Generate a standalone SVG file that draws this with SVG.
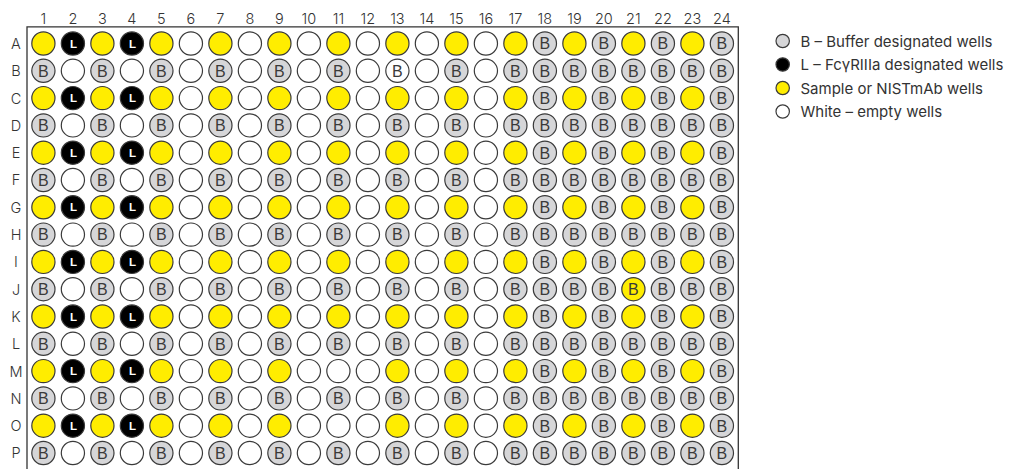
<svg xmlns="http://www.w3.org/2000/svg" width="1015" height="469" viewBox="0 0 1015 469">
<style>
circle{stroke:#3a3a3a;stroke-width:1.2}
.w{fill:#fff}.y{fill:#ffed00}.g{fill:#d6d6d8}.k{fill:#000}
.b{font-family:"Liberation Sans",Arial,sans-serif;font-size:16px;fill:#3a3a3a;text-anchor:middle}
.l{font-family:"Liberation Sans",Arial,sans-serif;font-size:11.5px;font-weight:bold;fill:#fff;text-anchor:middle}
.lab{font-family:Inter,"Noto Sans",sans-serif;font-size:14.5px;font-weight:300;fill:#333;text-anchor:middle}
.leg{font-family:Inter,"Noto Sans",sans-serif;font-size:15px;fill:#333}
</style>
<rect width="1015" height="469" fill="#fff"/>
<g id="frame"><path d="M27 469V26.8H738.3V469" fill="none" stroke="#333" stroke-width="1.3"/></g>
<g id="column-labels" class="lab">
<text x="43.4" y="24">1</text><text x="72.9" y="24">2</text><text x="102.4" y="24">3</text><text x="131.9" y="24">4</text><text x="161.4" y="24">5</text><text x="190.9" y="24">6</text><text x="220.4" y="24">7</text><text x="249.9" y="24">8</text><text x="279.4" y="24">9</text><text x="308.9" y="24">10</text><text x="338.4" y="24">11</text><text x="367.9" y="24">12</text><text x="397.4" y="24">13</text><text x="426.9" y="24">14</text><text x="456.4" y="24">15</text><text x="485.9" y="24">16</text><text x="515.4" y="24">17</text><text x="544.9" y="24">18</text><text x="574.4" y="24">19</text><text x="603.9" y="24">20</text><text x="633.4" y="24">21</text><text x="662.9" y="24">22</text><text x="692.4" y="24">23</text><text x="721.9" y="24">24</text>
</g>
<g id="row-labels" class="lab">
<text x="16" y="48.9">A</text><text x="16" y="76.2">B</text><text x="16" y="103.5">C</text><text x="16" y="130.8">D</text><text x="16" y="158.1">E</text><text x="16" y="185.4">F</text><text x="16" y="212.7">G</text><text x="16" y="240">H</text><text x="16" y="267.3">I</text><text x="16" y="294.6">J</text><text x="16" y="321.9">K</text><text x="16" y="349.2">L</text><text x="16" y="376.5">M</text><text x="16" y="403.8">N</text><text x="16" y="431.1">O</text><text x="16" y="458.4">P</text>
</g>
<g id="connectors"></g>
<g id="row-A" transform="translate(0 43.5)">
<g id="A1"><circle class="y" cx="43.4" r="11.6"/></g>
<g id="A2"><circle class="k" cx="72.9" r="11.6"/><text class="l" x="73.4" y="4.1">L</text></g>
<g id="A3"><circle class="y" cx="102.4" r="11.6"/></g>
<g id="A4"><circle class="k" cx="131.9" r="11.6"/><text class="l" x="132.4" y="4.1">L</text></g>
<g id="A5"><circle class="y" cx="161.4" r="11.6"/></g>
<g id="A6"><circle class="w" cx="190.9" r="11.6"/></g>
<g id="A7"><circle class="y" cx="220.4" r="11.6"/></g>
<g id="A8"><circle class="w" cx="249.9" r="11.6"/></g>
<g id="A9"><circle class="y" cx="279.4" r="11.6"/></g>
<g id="A10"><circle class="w" cx="308.9" r="11.6"/></g>
<g id="A11"><circle class="y" cx="338.4" r="11.6"/></g>
<g id="A12"><circle class="w" cx="367.9" r="11.6"/></g>
<g id="A13"><circle class="y" cx="397.4" r="11.6"/></g>
<g id="A14"><circle class="w" cx="426.9" r="11.6"/></g>
<g id="A15"><circle class="y" cx="456.4" r="11.6"/></g>
<g id="A16"><circle class="w" cx="485.9" r="11.6"/></g>
<g id="A17"><circle class="y" cx="515.4" r="11.6"/></g>
<g id="A18"><circle class="g" cx="544.9" r="11.6"/><text class="b" x="544.9" y="5.8">B</text></g>
<g id="A19"><circle class="y" cx="574.4" r="11.6"/></g>
<g id="A20"><circle class="g" cx="603.9" r="11.6"/><text class="b" x="603.9" y="5.8">B</text></g>
<g id="A21"><circle class="y" cx="633.4" r="11.6"/></g>
<g id="A22"><circle class="g" cx="662.9" r="11.6"/><text class="b" x="662.9" y="5.8">B</text></g>
<g id="A23"><circle class="y" cx="692.4" r="11.6"/></g>
<g id="A24"><circle class="g" cx="721.9" r="11.6"/><text class="b" x="721.9" y="5.8">B</text></g>
</g>
<g id="row-B" transform="translate(0 70.8)">
<g id="B1"><circle class="g" cx="43.4" r="11.6"/><text class="b" x="43.4" y="5.8">B</text></g>
<g id="B2"><circle class="w" cx="72.9" r="11.6"/></g>
<g id="B3"><circle class="g" cx="102.4" r="11.6"/><text class="b" x="102.4" y="5.8">B</text></g>
<g id="B4"><circle class="w" cx="131.9" r="11.6"/></g>
<g id="B5"><circle class="g" cx="161.4" r="11.6"/><text class="b" x="161.4" y="5.8">B</text></g>
<g id="B6"><circle class="w" cx="190.9" r="11.6"/></g>
<g id="B7"><circle class="g" cx="220.4" r="11.6"/><text class="b" x="220.4" y="5.8">B</text></g>
<g id="B8"><circle class="w" cx="249.9" r="11.6"/></g>
<g id="B9"><circle class="g" cx="279.4" r="11.6"/><text class="b" x="279.4" y="5.8">B</text></g>
<g id="B10"><circle class="w" cx="308.9" r="11.6"/></g>
<g id="B11"><circle class="g" cx="338.4" r="11.6"/><text class="b" x="338.4" y="5.8">B</text></g>
<g id="B12"><circle class="w" cx="367.9" r="11.6"/></g>
<g id="B13"><circle class="w" cx="397.4" r="11.6"/><text class="b" x="397.4" y="5.8">B</text></g>
<g id="B14"><circle class="w" cx="426.9" r="11.6"/></g>
<g id="B15"><circle class="g" cx="456.4" r="11.6"/><text class="b" x="456.4" y="5.8">B</text></g>
<g id="B16"><circle class="w" cx="485.9" r="11.6"/></g>
<g id="B17"><circle class="g" cx="515.4" r="11.6"/><text class="b" x="515.4" y="5.8">B</text></g>
<g id="B18"><circle class="g" cx="544.9" r="11.6"/><text class="b" x="544.9" y="5.8">B</text></g>
<g id="B19"><circle class="g" cx="574.4" r="11.6"/><text class="b" x="574.4" y="5.8">B</text></g>
<g id="B20"><circle class="g" cx="603.9" r="11.6"/><text class="b" x="603.9" y="5.8">B</text></g>
<g id="B21"><circle class="g" cx="633.4" r="11.6"/><text class="b" x="633.4" y="5.8">B</text></g>
<g id="B22"><circle class="g" cx="662.9" r="11.6"/><text class="b" x="662.9" y="5.8">B</text></g>
<g id="B23"><circle class="g" cx="692.4" r="11.6"/><text class="b" x="692.4" y="5.8">B</text></g>
<g id="B24"><circle class="g" cx="721.9" r="11.6"/><text class="b" x="721.9" y="5.8">B</text></g>
</g>
<g id="row-C" transform="translate(0 98.1)">
<g id="C1"><circle class="y" cx="43.4" r="11.6"/></g>
<g id="C2"><circle class="k" cx="72.9" r="11.6"/><text class="l" x="73.4" y="4.1">L</text></g>
<g id="C3"><circle class="y" cx="102.4" r="11.6"/></g>
<g id="C4"><circle class="k" cx="131.9" r="11.6"/><text class="l" x="132.4" y="4.1">L</text></g>
<g id="C5"><circle class="y" cx="161.4" r="11.6"/></g>
<g id="C6"><circle class="w" cx="190.9" r="11.6"/></g>
<g id="C7"><circle class="y" cx="220.4" r="11.6"/></g>
<g id="C8"><circle class="w" cx="249.9" r="11.6"/></g>
<g id="C9"><circle class="y" cx="279.4" r="11.6"/></g>
<g id="C10"><circle class="w" cx="308.9" r="11.6"/></g>
<g id="C11"><circle class="y" cx="338.4" r="11.6"/></g>
<g id="C12"><circle class="w" cx="367.9" r="11.6"/></g>
<g id="C13"><circle class="y" cx="397.4" r="11.6"/></g>
<g id="C14"><circle class="w" cx="426.9" r="11.6"/></g>
<g id="C15"><circle class="y" cx="456.4" r="11.6"/></g>
<g id="C16"><circle class="w" cx="485.9" r="11.6"/></g>
<g id="C17"><circle class="y" cx="515.4" r="11.6"/></g>
<g id="C18"><circle class="g" cx="544.9" r="11.6"/><text class="b" x="544.9" y="5.8">B</text></g>
<g id="C19"><circle class="y" cx="574.4" r="11.6"/></g>
<g id="C20"><circle class="g" cx="603.9" r="11.6"/><text class="b" x="603.9" y="5.8">B</text></g>
<g id="C21"><circle class="y" cx="633.4" r="11.6"/></g>
<g id="C22"><circle class="g" cx="662.9" r="11.6"/><text class="b" x="662.9" y="5.8">B</text></g>
<g id="C23"><circle class="y" cx="692.4" r="11.6"/></g>
<g id="C24"><circle class="g" cx="721.9" r="11.6"/><text class="b" x="721.9" y="5.8">B</text></g>
</g>
<g id="row-D" transform="translate(0 125.4)">
<g id="D1"><circle class="g" cx="43.4" r="11.6"/><text class="b" x="43.4" y="5.8">B</text></g>
<g id="D2"><circle class="w" cx="72.9" r="11.6"/></g>
<g id="D3"><circle class="g" cx="102.4" r="11.6"/><text class="b" x="102.4" y="5.8">B</text></g>
<g id="D4"><circle class="w" cx="131.9" r="11.6"/></g>
<g id="D5"><circle class="g" cx="161.4" r="11.6"/><text class="b" x="161.4" y="5.8">B</text></g>
<g id="D6"><circle class="w" cx="190.9" r="11.6"/></g>
<g id="D7"><circle class="g" cx="220.4" r="11.6"/><text class="b" x="220.4" y="5.8">B</text></g>
<g id="D8"><circle class="w" cx="249.9" r="11.6"/></g>
<g id="D9"><circle class="g" cx="279.4" r="11.6"/><text class="b" x="279.4" y="5.8">B</text></g>
<g id="D10"><circle class="w" cx="308.9" r="11.6"/></g>
<g id="D11"><circle class="g" cx="338.4" r="11.6"/><text class="b" x="338.4" y="5.8">B</text></g>
<g id="D12"><circle class="w" cx="367.9" r="11.6"/></g>
<g id="D13"><circle class="g" cx="397.4" r="11.6"/><text class="b" x="397.4" y="5.8">B</text></g>
<g id="D14"><circle class="w" cx="426.9" r="11.6"/></g>
<g id="D15"><circle class="g" cx="456.4" r="11.6"/><text class="b" x="456.4" y="5.8">B</text></g>
<g id="D16"><circle class="w" cx="485.9" r="11.6"/></g>
<g id="D17"><circle class="g" cx="515.4" r="11.6"/><text class="b" x="515.4" y="5.8">B</text></g>
<g id="D18"><circle class="g" cx="544.9" r="11.6"/><text class="b" x="544.9" y="5.8">B</text></g>
<g id="D19"><circle class="g" cx="574.4" r="11.6"/><text class="b" x="574.4" y="5.8">B</text></g>
<g id="D20"><circle class="g" cx="603.9" r="11.6"/><text class="b" x="603.9" y="5.8">B</text></g>
<g id="D21"><circle class="g" cx="633.4" r="11.6"/><text class="b" x="633.4" y="5.8">B</text></g>
<g id="D22"><circle class="g" cx="662.9" r="11.6"/><text class="b" x="662.9" y="5.8">B</text></g>
<g id="D23"><circle class="g" cx="692.4" r="11.6"/><text class="b" x="692.4" y="5.8">B</text></g>
<g id="D24"><circle class="g" cx="721.9" r="11.6"/><text class="b" x="721.9" y="5.8">B</text></g>
</g>
<g id="row-E" transform="translate(0 152.7)">
<g id="E1"><circle class="y" cx="43.4" r="11.6"/></g>
<g id="E2"><circle class="k" cx="72.9" r="11.6"/><text class="l" x="73.4" y="4.1">L</text></g>
<g id="E3"><circle class="y" cx="102.4" r="11.6"/></g>
<g id="E4"><circle class="k" cx="131.9" r="11.6"/><text class="l" x="132.4" y="4.1">L</text></g>
<g id="E5"><circle class="y" cx="161.4" r="11.6"/></g>
<g id="E6"><circle class="w" cx="190.9" r="11.6"/></g>
<g id="E7"><circle class="y" cx="220.4" r="11.6"/></g>
<g id="E8"><circle class="w" cx="249.9" r="11.6"/></g>
<g id="E9"><circle class="y" cx="279.4" r="11.6"/></g>
<g id="E10"><circle class="w" cx="308.9" r="11.6"/></g>
<g id="E11"><circle class="y" cx="338.4" r="11.6"/></g>
<g id="E12"><circle class="w" cx="367.9" r="11.6"/></g>
<g id="E13"><circle class="y" cx="397.4" r="11.6"/></g>
<g id="E14"><circle class="w" cx="426.9" r="11.6"/></g>
<g id="E15"><circle class="y" cx="456.4" r="11.6"/></g>
<g id="E16"><circle class="w" cx="485.9" r="11.6"/></g>
<g id="E17"><circle class="y" cx="515.4" r="11.6"/></g>
<g id="E18"><circle class="g" cx="544.9" r="11.6"/><text class="b" x="544.9" y="5.8">B</text></g>
<g id="E19"><circle class="y" cx="574.4" r="11.6"/></g>
<g id="E20"><circle class="g" cx="603.9" r="11.6"/><text class="b" x="603.9" y="5.8">B</text></g>
<g id="E21"><circle class="y" cx="633.4" r="11.6"/></g>
<g id="E22"><circle class="g" cx="662.9" r="11.6"/><text class="b" x="662.9" y="5.8">B</text></g>
<g id="E23"><circle class="y" cx="692.4" r="11.6"/></g>
<g id="E24"><circle class="g" cx="721.9" r="11.6"/><text class="b" x="721.9" y="5.8">B</text></g>
</g>
<g id="row-F" transform="translate(0 180)">
<g id="F1"><circle class="g" cx="43.4" r="11.6"/><text class="b" x="43.4" y="5.8">B</text></g>
<g id="F2"><circle class="w" cx="72.9" r="11.6"/></g>
<g id="F3"><circle class="g" cx="102.4" r="11.6"/><text class="b" x="102.4" y="5.8">B</text></g>
<g id="F4"><circle class="w" cx="131.9" r="11.6"/></g>
<g id="F5"><circle class="g" cx="161.4" r="11.6"/><text class="b" x="161.4" y="5.8">B</text></g>
<g id="F6"><circle class="w" cx="190.9" r="11.6"/></g>
<g id="F7"><circle class="g" cx="220.4" r="11.6"/><text class="b" x="220.4" y="5.8">B</text></g>
<g id="F8"><circle class="w" cx="249.9" r="11.6"/></g>
<g id="F9"><circle class="g" cx="279.4" r="11.6"/><text class="b" x="279.4" y="5.8">B</text></g>
<g id="F10"><circle class="w" cx="308.9" r="11.6"/></g>
<g id="F11"><circle class="g" cx="338.4" r="11.6"/><text class="b" x="338.4" y="5.8">B</text></g>
<g id="F12"><circle class="w" cx="367.9" r="11.6"/></g>
<g id="F13"><circle class="g" cx="397.4" r="11.6"/><text class="b" x="397.4" y="5.8">B</text></g>
<g id="F14"><circle class="w" cx="426.9" r="11.6"/></g>
<g id="F15"><circle class="g" cx="456.4" r="11.6"/><text class="b" x="456.4" y="5.8">B</text></g>
<g id="F16"><circle class="w" cx="485.9" r="11.6"/></g>
<g id="F17"><circle class="g" cx="515.4" r="11.6"/><text class="b" x="515.4" y="5.8">B</text></g>
<g id="F18"><circle class="g" cx="544.9" r="11.6"/><text class="b" x="544.9" y="5.8">B</text></g>
<g id="F19"><circle class="g" cx="574.4" r="11.6"/><text class="b" x="574.4" y="5.8">B</text></g>
<g id="F20"><circle class="g" cx="603.9" r="11.6"/><text class="b" x="603.9" y="5.8">B</text></g>
<g id="F21"><circle class="g" cx="633.4" r="11.6"/><text class="b" x="633.4" y="5.8">B</text></g>
<g id="F22"><circle class="g" cx="662.9" r="11.6"/><text class="b" x="662.9" y="5.8">B</text></g>
<g id="F23"><circle class="g" cx="692.4" r="11.6"/><text class="b" x="692.4" y="5.8">B</text></g>
<g id="F24"><circle class="g" cx="721.9" r="11.6"/><text class="b" x="721.9" y="5.8">B</text></g>
</g>
<g id="row-G" transform="translate(0 207.3)">
<g id="G1"><circle class="y" cx="43.4" r="11.6"/></g>
<g id="G2"><circle class="k" cx="72.9" r="11.6"/><text class="l" x="73.4" y="4.1">L</text></g>
<g id="G3"><circle class="y" cx="102.4" r="11.6"/></g>
<g id="G4"><circle class="k" cx="131.9" r="11.6"/><text class="l" x="132.4" y="4.1">L</text></g>
<g id="G5"><circle class="y" cx="161.4" r="11.6"/></g>
<g id="G6"><circle class="w" cx="190.9" r="11.6"/></g>
<g id="G7"><circle class="y" cx="220.4" r="11.6"/></g>
<g id="G8"><circle class="w" cx="249.9" r="11.6"/></g>
<g id="G9"><circle class="y" cx="279.4" r="11.6"/></g>
<g id="G10"><circle class="w" cx="308.9" r="11.6"/></g>
<g id="G11"><circle class="y" cx="338.4" r="11.6"/></g>
<g id="G12"><circle class="w" cx="367.9" r="11.6"/></g>
<g id="G13"><circle class="y" cx="397.4" r="11.6"/></g>
<g id="G14"><circle class="w" cx="426.9" r="11.6"/></g>
<g id="G15"><circle class="y" cx="456.4" r="11.6"/></g>
<g id="G16"><circle class="w" cx="485.9" r="11.6"/></g>
<g id="G17"><circle class="y" cx="515.4" r="11.6"/></g>
<g id="G18"><circle class="g" cx="544.9" r="11.6"/><text class="b" x="544.9" y="5.8">B</text></g>
<g id="G19"><circle class="y" cx="574.4" r="11.6"/></g>
<g id="G20"><circle class="g" cx="603.9" r="11.6"/><text class="b" x="603.9" y="5.8">B</text></g>
<g id="G21"><circle class="y" cx="633.4" r="11.6"/></g>
<g id="G22"><circle class="g" cx="662.9" r="11.6"/><text class="b" x="662.9" y="5.8">B</text></g>
<g id="G23"><circle class="y" cx="692.4" r="11.6"/></g>
<g id="G24"><circle class="g" cx="721.9" r="11.6"/><text class="b" x="721.9" y="5.8">B</text></g>
</g>
<g id="row-H" transform="translate(0 234.6)">
<g id="H1"><circle class="g" cx="43.4" r="11.6"/><text class="b" x="43.4" y="5.8">B</text></g>
<g id="H2"><circle class="w" cx="72.9" r="11.6"/></g>
<g id="H3"><circle class="g" cx="102.4" r="11.6"/><text class="b" x="102.4" y="5.8">B</text></g>
<g id="H4"><circle class="w" cx="131.9" r="11.6"/></g>
<g id="H5"><circle class="g" cx="161.4" r="11.6"/><text class="b" x="161.4" y="5.8">B</text></g>
<g id="H6"><circle class="w" cx="190.9" r="11.6"/></g>
<g id="H7"><circle class="g" cx="220.4" r="11.6"/><text class="b" x="220.4" y="5.8">B</text></g>
<g id="H8"><circle class="w" cx="249.9" r="11.6"/></g>
<g id="H9"><circle class="g" cx="279.4" r="11.6"/><text class="b" x="279.4" y="5.8">B</text></g>
<g id="H10"><circle class="w" cx="308.9" r="11.6"/></g>
<g id="H11"><circle class="g" cx="338.4" r="11.6"/><text class="b" x="338.4" y="5.8">B</text></g>
<g id="H12"><circle class="w" cx="367.9" r="11.6"/></g>
<g id="H13"><circle class="g" cx="397.4" r="11.6"/><text class="b" x="397.4" y="5.8">B</text></g>
<g id="H14"><circle class="w" cx="426.9" r="11.6"/></g>
<g id="H15"><circle class="g" cx="456.4" r="11.6"/><text class="b" x="456.4" y="5.8">B</text></g>
<g id="H16"><circle class="w" cx="485.9" r="11.6"/></g>
<g id="H17"><circle class="g" cx="515.4" r="11.6"/><text class="b" x="515.4" y="5.8">B</text></g>
<g id="H18"><circle class="g" cx="544.9" r="11.6"/><text class="b" x="544.9" y="5.8">B</text></g>
<g id="H19"><circle class="g" cx="574.4" r="11.6"/><text class="b" x="574.4" y="5.8">B</text></g>
<g id="H20"><circle class="g" cx="603.9" r="11.6"/><text class="b" x="603.9" y="5.8">B</text></g>
<g id="H21"><circle class="g" cx="633.4" r="11.6"/><text class="b" x="633.4" y="5.8">B</text></g>
<g id="H22"><circle class="g" cx="662.9" r="11.6"/><text class="b" x="662.9" y="5.8">B</text></g>
<g id="H23"><circle class="g" cx="692.4" r="11.6"/><text class="b" x="692.4" y="5.8">B</text></g>
<g id="H24"><circle class="g" cx="721.9" r="11.6"/><text class="b" x="721.9" y="5.8">B</text></g>
</g>
<g id="row-I" transform="translate(0 261.9)">
<g id="I1"><circle class="y" cx="43.4" r="11.6"/></g>
<g id="I2"><circle class="k" cx="72.9" r="11.6"/><text class="l" x="73.4" y="4.1">L</text></g>
<g id="I3"><circle class="y" cx="102.4" r="11.6"/></g>
<g id="I4"><circle class="k" cx="131.9" r="11.6"/><text class="l" x="132.4" y="4.1">L</text></g>
<g id="I5"><circle class="y" cx="161.4" r="11.6"/></g>
<g id="I6"><circle class="w" cx="190.9" r="11.6"/></g>
<g id="I7"><circle class="y" cx="220.4" r="11.6"/></g>
<g id="I8"><circle class="w" cx="249.9" r="11.6"/></g>
<g id="I9"><circle class="y" cx="279.4" r="11.6"/></g>
<g id="I10"><circle class="w" cx="308.9" r="11.6"/></g>
<g id="I11"><circle class="y" cx="338.4" r="11.6"/></g>
<g id="I12"><circle class="w" cx="367.9" r="11.6"/></g>
<g id="I13"><circle class="y" cx="397.4" r="11.6"/></g>
<g id="I14"><circle class="w" cx="426.9" r="11.6"/></g>
<g id="I15"><circle class="y" cx="456.4" r="11.6"/></g>
<g id="I16"><circle class="w" cx="485.9" r="11.6"/></g>
<g id="I17"><circle class="y" cx="515.4" r="11.6"/></g>
<g id="I18"><circle class="g" cx="544.9" r="11.6"/><text class="b" x="544.9" y="5.8">B</text></g>
<g id="I19"><circle class="y" cx="574.4" r="11.6"/></g>
<g id="I20"><circle class="g" cx="603.9" r="11.6"/><text class="b" x="603.9" y="5.8">B</text></g>
<g id="I21"><circle class="y" cx="633.4" r="11.6"/></g>
<g id="I22"><circle class="g" cx="662.9" r="11.6"/><text class="b" x="662.9" y="5.8">B</text></g>
<g id="I23"><circle class="y" cx="692.4" r="11.6"/></g>
<g id="I24"><circle class="g" cx="721.9" r="11.6"/><text class="b" x="721.9" y="5.8">B</text></g>
</g>
<g id="row-J" transform="translate(0 289.2)">
<g id="J1"><circle class="g" cx="43.4" r="11.6"/><text class="b" x="43.4" y="5.8">B</text></g>
<g id="J2"><circle class="w" cx="72.9" r="11.6"/></g>
<g id="J3"><circle class="g" cx="102.4" r="11.6"/><text class="b" x="102.4" y="5.8">B</text></g>
<g id="J4"><circle class="w" cx="131.9" r="11.6"/></g>
<g id="J5"><circle class="g" cx="161.4" r="11.6"/><text class="b" x="161.4" y="5.8">B</text></g>
<g id="J6"><circle class="w" cx="190.9" r="11.6"/></g>
<g id="J7"><circle class="g" cx="220.4" r="11.6"/><text class="b" x="220.4" y="5.8">B</text></g>
<g id="J8"><circle class="w" cx="249.9" r="11.6"/></g>
<g id="J9"><circle class="g" cx="279.4" r="11.6"/><text class="b" x="279.4" y="5.8">B</text></g>
<g id="J10"><circle class="w" cx="308.9" r="11.6"/></g>
<g id="J11"><circle class="g" cx="338.4" r="11.6"/><text class="b" x="338.4" y="5.8">B</text></g>
<g id="J12"><circle class="w" cx="367.9" r="11.6"/></g>
<g id="J13"><circle class="g" cx="397.4" r="11.6"/><text class="b" x="397.4" y="5.8">B</text></g>
<g id="J14"><circle class="w" cx="426.9" r="11.6"/></g>
<g id="J15"><circle class="g" cx="456.4" r="11.6"/><text class="b" x="456.4" y="5.8">B</text></g>
<g id="J16"><circle class="w" cx="485.9" r="11.6"/></g>
<g id="J17"><circle class="g" cx="515.4" r="11.6"/><text class="b" x="515.4" y="5.8">B</text></g>
<g id="J18"><circle class="g" cx="544.9" r="11.6"/><text class="b" x="544.9" y="5.8">B</text></g>
<g id="J19"><circle class="g" cx="574.4" r="11.6"/><text class="b" x="574.4" y="5.8">B</text></g>
<g id="J20"><circle class="g" cx="603.9" r="11.6"/><text class="b" x="603.9" y="5.8">B</text></g>
<g id="J21"><circle class="y" cx="633.4" r="11.6"/><text class="b" x="633.4" y="5.8">B</text></g>
<g id="J22"><circle class="g" cx="662.9" r="11.6"/><text class="b" x="662.9" y="5.8">B</text></g>
<g id="J23"><circle class="g" cx="692.4" r="11.6"/><text class="b" x="692.4" y="5.8">B</text></g>
<g id="J24"><circle class="g" cx="721.9" r="11.6"/><text class="b" x="721.9" y="5.8">B</text></g>
</g>
<g id="row-K" transform="translate(0 316.5)">
<g id="K1"><circle class="y" cx="43.4" r="11.6"/></g>
<g id="K2"><circle class="k" cx="72.9" r="11.6"/><text class="l" x="73.4" y="4.1">L</text></g>
<g id="K3"><circle class="y" cx="102.4" r="11.6"/></g>
<g id="K4"><circle class="k" cx="131.9" r="11.6"/><text class="l" x="132.4" y="4.1">L</text></g>
<g id="K5"><circle class="y" cx="161.4" r="11.6"/></g>
<g id="K6"><circle class="w" cx="190.9" r="11.6"/></g>
<g id="K7"><circle class="y" cx="220.4" r="11.6"/></g>
<g id="K8"><circle class="w" cx="249.9" r="11.6"/></g>
<g id="K9"><circle class="y" cx="279.4" r="11.6"/></g>
<g id="K10"><circle class="w" cx="308.9" r="11.6"/></g>
<g id="K11"><circle class="y" cx="338.4" r="11.6"/></g>
<g id="K12"><circle class="w" cx="367.9" r="11.6"/></g>
<g id="K13"><circle class="y" cx="397.4" r="11.6"/></g>
<g id="K14"><circle class="w" cx="426.9" r="11.6"/></g>
<g id="K15"><circle class="y" cx="456.4" r="11.6"/></g>
<g id="K16"><circle class="w" cx="485.9" r="11.6"/></g>
<g id="K17"><circle class="y" cx="515.4" r="11.6"/></g>
<g id="K18"><circle class="g" cx="544.9" r="11.6"/><text class="b" x="544.9" y="5.8">B</text></g>
<g id="K19"><circle class="y" cx="574.4" r="11.6"/></g>
<g id="K20"><circle class="g" cx="603.9" r="11.6"/><text class="b" x="603.9" y="5.8">B</text></g>
<g id="K21"><circle class="y" cx="633.4" r="11.6"/></g>
<g id="K22"><circle class="g" cx="662.9" r="11.6"/><text class="b" x="662.9" y="5.8">B</text></g>
<g id="K23"><circle class="y" cx="692.4" r="11.6"/></g>
<g id="K24"><circle class="g" cx="721.9" r="11.6"/><text class="b" x="721.9" y="5.8">B</text></g>
</g>
<g id="row-L" transform="translate(0 343.8)">
<g id="L1"><circle class="g" cx="43.4" r="11.6"/><text class="b" x="43.4" y="5.8">B</text></g>
<g id="L2"><circle class="w" cx="72.9" r="11.6"/></g>
<g id="L3"><circle class="g" cx="102.4" r="11.6"/><text class="b" x="102.4" y="5.8">B</text></g>
<g id="L4"><circle class="w" cx="131.9" r="11.6"/></g>
<g id="L5"><circle class="g" cx="161.4" r="11.6"/><text class="b" x="161.4" y="5.8">B</text></g>
<g id="L6"><circle class="w" cx="190.9" r="11.6"/></g>
<g id="L7"><circle class="g" cx="220.4" r="11.6"/><text class="b" x="220.4" y="5.8">B</text></g>
<g id="L8"><circle class="w" cx="249.9" r="11.6"/></g>
<g id="L9"><circle class="g" cx="279.4" r="11.6"/><text class="b" x="279.4" y="5.8">B</text></g>
<g id="L10"><circle class="w" cx="308.9" r="11.6"/></g>
<g id="L11"><circle class="g" cx="338.4" r="11.6"/><text class="b" x="338.4" y="5.8">B</text></g>
<g id="L12"><circle class="w" cx="367.9" r="11.6"/></g>
<g id="L13"><circle class="g" cx="397.4" r="11.6"/><text class="b" x="397.4" y="5.8">B</text></g>
<g id="L14"><circle class="w" cx="426.9" r="11.6"/></g>
<g id="L15"><circle class="g" cx="456.4" r="11.6"/><text class="b" x="456.4" y="5.8">B</text></g>
<g id="L16"><circle class="w" cx="485.9" r="11.6"/></g>
<g id="L17"><circle class="g" cx="515.4" r="11.6"/><text class="b" x="515.4" y="5.8">B</text></g>
<g id="L18"><circle class="g" cx="544.9" r="11.6"/><text class="b" x="544.9" y="5.8">B</text></g>
<g id="L19"><circle class="g" cx="574.4" r="11.6"/><text class="b" x="574.4" y="5.8">B</text></g>
<g id="L20"><circle class="g" cx="603.9" r="11.6"/><text class="b" x="603.9" y="5.8">B</text></g>
<g id="L21"><circle class="g" cx="633.4" r="11.6"/><text class="b" x="633.4" y="5.8">B</text></g>
<g id="L22"><circle class="g" cx="662.9" r="11.6"/><text class="b" x="662.9" y="5.8">B</text></g>
<g id="L23"><circle class="g" cx="692.4" r="11.6"/><text class="b" x="692.4" y="5.8">B</text></g>
<g id="L24"><circle class="g" cx="721.9" r="11.6"/><text class="b" x="721.9" y="5.8">B</text></g>
</g>
<g id="row-M" transform="translate(0 371.1)">
<g id="M1"><circle class="y" cx="43.4" r="11.6"/></g>
<g id="M2"><circle class="k" cx="72.9" r="11.6"/><text class="l" x="73.4" y="4.1">L</text></g>
<g id="M3"><circle class="y" cx="102.4" r="11.6"/></g>
<g id="M4"><circle class="k" cx="131.9" r="11.6"/><text class="l" x="132.4" y="4.1">L</text></g>
<g id="M5"><circle class="y" cx="161.4" r="11.6"/></g>
<g id="M6"><circle class="w" cx="190.9" r="11.6"/></g>
<g id="M7"><circle class="y" cx="220.4" r="11.6"/></g>
<g id="M8"><circle class="w" cx="249.9" r="11.6"/></g>
<g id="M9"><circle class="y" cx="279.4" r="11.6"/></g>
<g id="M10"><circle class="w" cx="308.9" r="11.6"/></g>
<g id="M11"><circle class="w" cx="338.4" r="11.6"/></g>
<g id="M12"><circle class="w" cx="367.9" r="11.6"/></g>
<g id="M13"><circle class="y" cx="397.4" r="11.6"/></g>
<g id="M14"><circle class="w" cx="426.9" r="11.6"/></g>
<g id="M15"><circle class="y" cx="456.4" r="11.6"/></g>
<g id="M16"><circle class="w" cx="485.9" r="11.6"/></g>
<g id="M17"><circle class="y" cx="515.4" r="11.6"/></g>
<g id="M18"><circle class="g" cx="544.9" r="11.6"/><text class="b" x="544.9" y="5.8">B</text></g>
<g id="M19"><circle class="y" cx="574.4" r="11.6"/></g>
<g id="M20"><circle class="g" cx="603.9" r="11.6"/><text class="b" x="603.9" y="5.8">B</text></g>
<g id="M21"><circle class="y" cx="633.4" r="11.6"/></g>
<g id="M22"><circle class="g" cx="662.9" r="11.6"/><text class="b" x="662.9" y="5.8">B</text></g>
<g id="M23"><circle class="y" cx="692.4" r="11.6"/></g>
<g id="M24"><circle class="g" cx="721.9" r="11.6"/><text class="b" x="721.9" y="5.8">B</text></g>
</g>
<g id="row-N" transform="translate(0 398.4)">
<g id="N1"><circle class="g" cx="43.4" r="11.6"/><text class="b" x="43.4" y="5.8">B</text></g>
<g id="N2"><circle class="w" cx="72.9" r="11.6"/></g>
<g id="N3"><circle class="g" cx="102.4" r="11.6"/><text class="b" x="102.4" y="5.8">B</text></g>
<g id="N4"><circle class="w" cx="131.9" r="11.6"/></g>
<g id="N5"><circle class="g" cx="161.4" r="11.6"/><text class="b" x="161.4" y="5.8">B</text></g>
<g id="N6"><circle class="w" cx="190.9" r="11.6"/></g>
<g id="N7"><circle class="g" cx="220.4" r="11.6"/><text class="b" x="220.4" y="5.8">B</text></g>
<g id="N8"><circle class="w" cx="249.9" r="11.6"/></g>
<g id="N9"><circle class="g" cx="279.4" r="11.6"/><text class="b" x="279.4" y="5.8">B</text></g>
<g id="N10"><circle class="w" cx="308.9" r="11.6"/></g>
<g id="N11"><circle class="g" cx="338.4" r="11.6"/><text class="b" x="338.4" y="5.8">B</text></g>
<g id="N12"><circle class="w" cx="367.9" r="11.6"/></g>
<g id="N13"><circle class="g" cx="397.4" r="11.6"/><text class="b" x="397.4" y="5.8">B</text></g>
<g id="N14"><circle class="w" cx="426.9" r="11.6"/></g>
<g id="N15"><circle class="g" cx="456.4" r="11.6"/><text class="b" x="456.4" y="5.8">B</text></g>
<g id="N16"><circle class="w" cx="485.9" r="11.6"/></g>
<g id="N17"><circle class="g" cx="515.4" r="11.6"/><text class="b" x="515.4" y="5.8">B</text></g>
<g id="N18"><circle class="g" cx="544.9" r="11.6"/><text class="b" x="544.9" y="5.8">B</text></g>
<g id="N19"><circle class="g" cx="574.4" r="11.6"/><text class="b" x="574.4" y="5.8">B</text></g>
<g id="N20"><circle class="g" cx="603.9" r="11.6"/><text class="b" x="603.9" y="5.8">B</text></g>
<g id="N21"><circle class="g" cx="633.4" r="11.6"/><text class="b" x="633.4" y="5.8">B</text></g>
<g id="N22"><circle class="g" cx="662.9" r="11.6"/><text class="b" x="662.9" y="5.8">B</text></g>
<g id="N23"><circle class="g" cx="692.4" r="11.6"/><text class="b" x="692.4" y="5.8">B</text></g>
<g id="N24"><circle class="g" cx="721.9" r="11.6"/><text class="b" x="721.9" y="5.8">B</text></g>
</g>
<g id="row-O" transform="translate(0 425.7)">
<g id="O1"><circle class="y" cx="43.4" r="11.6"/></g>
<g id="O2"><circle class="k" cx="72.9" r="11.6"/><text class="l" x="73.4" y="4.1">L</text></g>
<g id="O3"><circle class="y" cx="102.4" r="11.6"/></g>
<g id="O4"><circle class="k" cx="131.9" r="11.6"/><text class="l" x="132.4" y="4.1">L</text></g>
<g id="O5"><circle class="y" cx="161.4" r="11.6"/></g>
<g id="O6"><circle class="w" cx="190.9" r="11.6"/></g>
<g id="O7"><circle class="y" cx="220.4" r="11.6"/></g>
<g id="O8"><circle class="w" cx="249.9" r="11.6"/></g>
<g id="O9"><circle class="y" cx="279.4" r="11.6"/></g>
<g id="O10"><circle class="w" cx="308.9" r="11.6"/></g>
<g id="O11"><circle class="w" cx="338.4" r="11.6"/></g>
<g id="O12"><circle class="w" cx="367.9" r="11.6"/></g>
<g id="O13"><circle class="y" cx="397.4" r="11.6"/></g>
<g id="O14"><circle class="w" cx="426.9" r="11.6"/></g>
<g id="O15"><circle class="y" cx="456.4" r="11.6"/></g>
<g id="O16"><circle class="w" cx="485.9" r="11.6"/></g>
<g id="O17"><circle class="y" cx="515.4" r="11.6"/></g>
<g id="O18"><circle class="g" cx="544.9" r="11.6"/><text class="b" x="544.9" y="5.8">B</text></g>
<g id="O19"><circle class="y" cx="574.4" r="11.6"/></g>
<g id="O20"><circle class="g" cx="603.9" r="11.6"/><text class="b" x="603.9" y="5.8">B</text></g>
<g id="O21"><circle class="y" cx="633.4" r="11.6"/></g>
<g id="O22"><circle class="g" cx="662.9" r="11.6"/><text class="b" x="662.9" y="5.8">B</text></g>
<g id="O23"><circle class="y" cx="692.4" r="11.6"/></g>
<g id="O24"><circle class="g" cx="721.9" r="11.6"/><text class="b" x="721.9" y="5.8">B</text></g>
</g>
<g id="row-P" transform="translate(0 453)">
<g id="P1"><circle class="g" cx="43.4" r="11.6"/><text class="b" x="43.4" y="5.8">B</text></g>
<g id="P2"><circle class="w" cx="72.9" r="11.6"/></g>
<g id="P3"><circle class="g" cx="102.4" r="11.6"/><text class="b" x="102.4" y="5.8">B</text></g>
<g id="P4"><circle class="w" cx="131.9" r="11.6"/></g>
<g id="P5"><circle class="g" cx="161.4" r="11.6"/><text class="b" x="161.4" y="5.8">B</text></g>
<g id="P6"><circle class="w" cx="190.9" r="11.6"/></g>
<g id="P7"><circle class="g" cx="220.4" r="11.6"/><text class="b" x="220.4" y="5.8">B</text></g>
<g id="P8"><circle class="w" cx="249.9" r="11.6"/></g>
<g id="P9"><circle class="g" cx="279.4" r="11.6"/><text class="b" x="279.4" y="5.8">B</text></g>
<g id="P10"><circle class="w" cx="308.9" r="11.6"/></g>
<g id="P11"><circle class="g" cx="338.4" r="11.6"/><text class="b" x="338.4" y="5.8">B</text></g>
<g id="P12"><circle class="w" cx="367.9" r="11.6"/></g>
<g id="P13"><circle class="g" cx="397.4" r="11.6"/><text class="b" x="397.4" y="5.8">B</text></g>
<g id="P14"><circle class="w" cx="426.9" r="11.6"/></g>
<g id="P15"><circle class="g" cx="456.4" r="11.6"/><text class="b" x="456.4" y="5.8">B</text></g>
<g id="P16"><circle class="w" cx="485.9" r="11.6"/></g>
<g id="P17"><circle class="g" cx="515.4" r="11.6"/><text class="b" x="515.4" y="5.8">B</text></g>
<g id="P18"><circle class="g" cx="544.9" r="11.6"/><text class="b" x="544.9" y="5.8">B</text></g>
<g id="P19"><circle class="g" cx="574.4" r="11.6"/><text class="b" x="574.4" y="5.8">B</text></g>
<g id="P20"><circle class="g" cx="603.9" r="11.6"/><text class="b" x="603.9" y="5.8">B</text></g>
<g id="P21"><circle class="g" cx="633.4" r="11.6"/><text class="b" x="633.4" y="5.8">B</text></g>
<g id="P22"><circle class="g" cx="662.9" r="11.6"/><text class="b" x="662.9" y="5.8">B</text></g>
<g id="P23"><circle class="g" cx="692.4" r="11.6"/><text class="b" x="692.4" y="5.8">B</text></g>
<g id="P24"><circle class="g" cx="721.9" r="11.6"/><text class="b" x="721.9" y="5.8">B</text></g>
</g>
<g id="legend">
<g id="legend-buffer"><circle class="g" cx="782.7" cy="41" r="6.7"/><text class="leg" x="800.5" y="46.5">B – Buffer designated wells</text></g>
<g id="legend-fcr"><circle class="k" cx="782.7" cy="64.5" r="6.7"/><text class="leg" x="800.5" y="70">L – FcγRIIIa designated wells</text></g>
<g id="legend-sample"><circle class="y" cx="782.7" cy="88" r="6.7"/><text class="leg" x="800.5" y="93.5">Sample or NISTmAb wells</text></g>
<g id="legend-empty"><circle class="w" cx="782.7" cy="111.5" r="6.7"/><text class="leg" x="800.5" y="117">White – empty wells</text></g>
</g>
</svg>
